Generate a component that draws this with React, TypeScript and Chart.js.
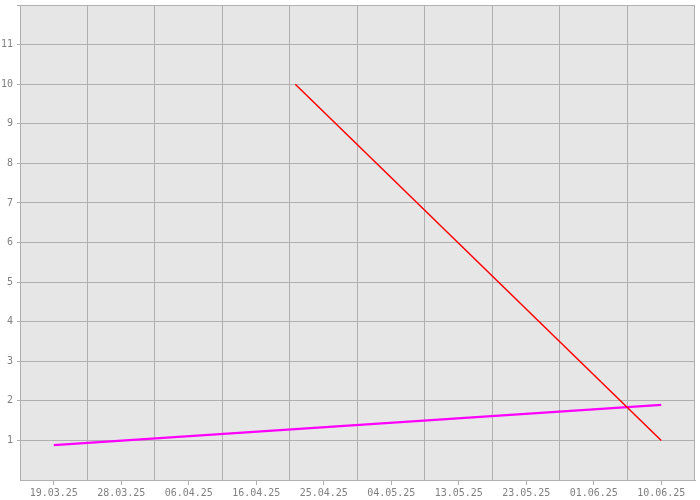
import React, { useEffect, useRef } from "react";
import { Chart, registerables } from "chart.js";

Chart.register(...registerables);

// ---- data ----
const xTickLabels = [
  "19.03.25", "28.03.25", "06.04.25", "16.04.25", "25.04.25",
  "04.05.25", "13.05.25", "23.05.25", "01.06.25", "10.06.25",
];
const redDates = ["21.04.25", "10.06.25"];
const redValues = [10, 1];
const magentaDates = ["19.03.25", "10.06.25"];
const magentaValues = [0.88, 1.9];
const yMin = 0;
const yMax = 12;

// ---- helpers ----
const toDay = (s: string) => {
  const [d, m, y] = s.split(".").map(Number);
  return Date.UTC(2000 + y, m - 1, d) / 86400000;
};
const baseDay = toDay(xTickLabels[0]);
const span = toDay(xTickLabels[xTickLabels.length - 1]) - baseDay;
const step = span / (xTickLabels.length - 1);

const GRID = "#b0b0b0";
const TEXT = "#808080";
const FONT = { family: "'DejaVu Sans Mono', monospace", size: 10 };

export default function App() {
  const ref = useRef<HTMLCanvasElement | null>(null);

  useEffect(() => {
    document.body.style.margin = "0";
    const canvas = ref.current;
    if (!canvas) return;

    const bgPlugin = {
      id: "plotBg",
      beforeDraw(chart: any) {
        const { ctx, chartArea } = chart;
        if (!chartArea) return;
        ctx.save();
        ctx.fillStyle = "#e6e6e6";
        ctx.fillRect(chartArea.left, chartArea.top, chartArea.right - chartArea.left, chartArea.bottom - chartArea.top);
        ctx.restore();
      },
    };

    const chart = new Chart(canvas, {
      type: "line",
      data: {
        datasets: [
          {
            label: "red",
            data: redDates.map((d, i) => ({ x: toDay(d) - baseDay, y: redValues[i] })),
            borderColor: "#ff0000",
            borderWidth: 1.5,
            pointRadius: 0,
            tension: 0,
            fill: false,
          },
          {
            label: "magenta",
            data: magentaDates.map((d, i) => ({ x: toDay(d) - baseDay, y: magentaValues[i] })),
            borderColor: "#ff00ff",
            borderWidth: 2.2,
            pointRadius: 0,
            tension: 0,
            fill: false,
          },
        ],
      },
      options: {
        animation: false,
        responsive: false,
        events: [],
        layout: { padding: { top: 5, right: 5, left: 0, bottom: 0 } },
        plugins: { legend: { display: false }, tooltip: { enabled: false } },
        scales: {
          x: {
            type: "linear",
            min: -step / 2,
            max: span + step / 2,
            afterBuildTicks: (scale: any) => {
              const t: any[] = [];
              t.push({ value: -step / 2 });
              for (let i = 0; i < xTickLabels.length; i++) {
                t.push({ value: i * step });
                t.push({ value: (i + 0.5) * step });
              }
              scale.ticks = t;
            },
            afterFit: (scale: any) => {
              scale.height = 20;
              scale.paddingLeft = 0;
              scale.paddingRight = 0;
            },
            ticks: {
              autoSkip: false,
              maxRotation: 0,
              minRotation: 0,
              padding: 2,
              color: TEXT,
              font: FONT,
              callback: (_v: any, index: number) =>
                index % 2 === 1 ? xTickLabels[(index - 1) / 2] : "",
            },
            grid: {
              tickLength: 5,
              lineWidth: 1,
              color: (ctx: any) => (ctx.index % 2 === 0 ? GRID : "rgba(0,0,0,0)"),
              tickColor: (ctx: any) => (ctx.index % 2 === 1 ? GRID : "rgba(0,0,0,0)"),
            },
            border: { color: GRID },
          },
          y: {
            type: "linear",
            min: yMin,
            max: yMax,
            afterFit: (scale: any) => {
              scale.width = 20;
              scale.paddingTop = 0;
              scale.paddingBottom = 0;
            },
            ticks: {
              stepSize: 1,
              padding: 4,
              color: TEXT,
              font: FONT,
              callback: (v: any) => (v === yMin || v === yMax ? "" : String(v)),
            },
            grid: {
              tickLength: 3,
              lineWidth: 1,
              color: GRID,
              tickColor: (ctx: any) => (ctx.tick && ctx.tick.value === yMin ? "rgba(0,0,0,0)" : GRID),
            },
            border: { color: GRID },
          },
        },
      },
      plugins: [bgPlugin],
    } as any);

    return () => chart.destroy();
  }, []);

  return (
    <div style={{ width: 700, height: 500, background: "#ffffff" }}>
      <canvas ref={ref} width={700} height={500} style={{ display: "block" }} />
    </div>
  );
}
